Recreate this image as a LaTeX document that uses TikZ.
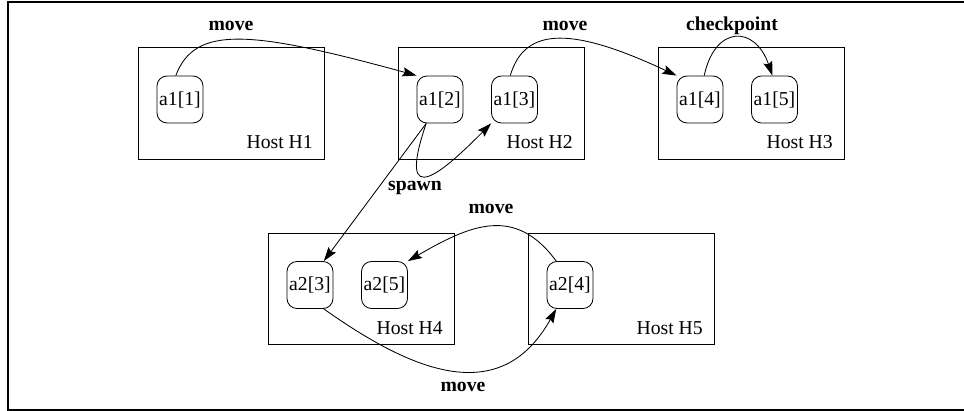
\documentclass[tikz,border=0pt]{standalone}
\usepackage{fontspec}
\setmainfont{Liberation Serif}
\usetikzlibrary{arrows.meta}

\begin{document}
\begin{tikzpicture}[x=0.025cm, y=-0.025cm, every node/.style={font=\fontsize{14}{16}\selectfont},
	host/.style={shape=rectangle, draw, line width=0.6pt, minimum width=4.65cm, minimum height=2.78cm},
	hostname/.style={anchor=base east, inner sep=0pt},
	agent/.style={shape=rectangle, rounded corners=0.25cm, draw, line width=0.6pt, minimum width=1.15cm, minimum height=1.175cm, inner sep=1pt},
	act/.style={font=\fontsize{14}{16}\selectfont\bfseries, anchor=base, inner sep=0pt},
	mv/.style={line width=0.6pt, -{Stealth[length=10pt, width=6.5pt, inset=1.5pt]}}]
	\useasboundingbox (0,0) rectangle (964,411);
	\draw[line width=1.2pt] (8,2) rectangle (968,410);
	% hosts
	\node[host] (h1) at (231,103.5) {};
	\node[host] (h2) at (491,103.5) {};
	\node[host] (h3) at (751,103.5) {};
	\node[host] (h4) at (361,289) {};
	\node[host] (h5) at (621,289) {};
	\node[hostname] (n1) at (313,149) {Host H1};
	\node[hostname] (n2) at (573,149) {Host H2};
	\node[hostname] (n3) at (833,149) {Host H3};
	\node[hostname] (n4) at (443,335) {Host H4};
	\node[hostname] (n5) at (703,335) {Host H5};
	% agents
	\node[agent] (a11) at (180,99.5) {a1[1]};
	\node[agent] (a12) at (440,99.5) {a1[2]};
	\node[agent] (a13) at (514.5,99.5) {a1[3]};
	\node[agent] (a14) at (700,99.5) {a1[4]};
	\node[agent] (a15) at (774.5,99.5) {a1[5]};
	\node[agent] (a23) at (310,285) {a2[3]};
	\node[agent] (a25) at (384.5,285) {a2[5]};
	\node[agent] (a24) at (570,285) {a2[4]};
	% actions
	\draw[mv] (a11.100) .. controls (195,25) and (250,30) .. (a12.north west);
	\draw[mv] (a13.100) .. controls (525,25) and (575,28) .. (a14.north west);
	\draw[mv] (a14.80) .. controls (715,25) and (755,25) .. (a15.95);
	\draw[mv] (a12.240) -- (a23.60);
	\draw[mv] (a12.240) .. controls (395,215) and (445,170) .. (a13.south west);
	\draw[mv] (a23.300) .. controls (410,370) and (500,410) .. (a24.240);
	\draw[mv] (a24.120) .. controls (515,205) and (470,225) .. (a25.north east);
	\node[act] (m1) at (231,31) {move};
	\node[act] (m2) at (565,31) {move};
	\node[act] (cp) at (732,31) {checkpoint};
	\node[act] (sp) at (415,191) {spawn};
	\node[act] (m3) at (491,214) {move};
	\node[act] (m4) at (463,392) {move};
\end{tikzpicture}
\end{document}
